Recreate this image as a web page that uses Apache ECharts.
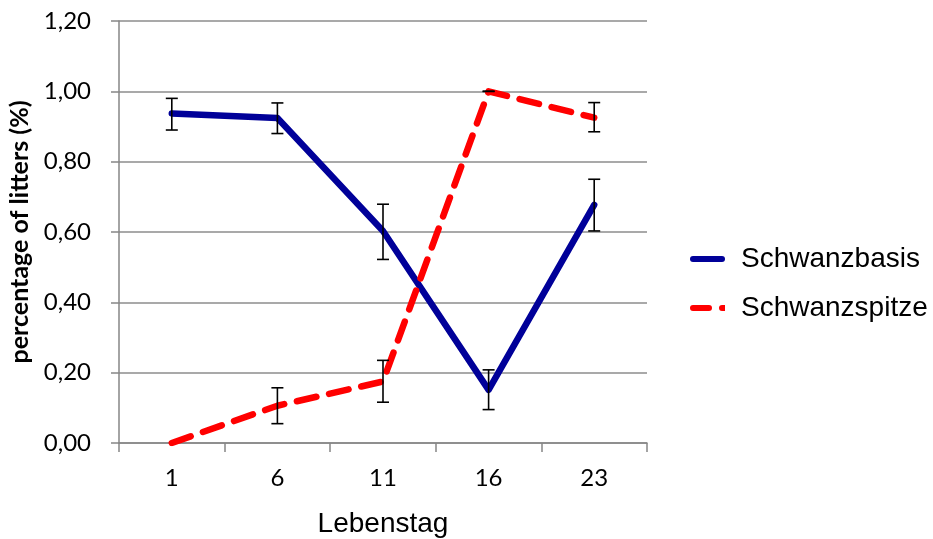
<!DOCTYPE html>
<html><head><meta charset="utf-8">
<script src="https://cdn.jsdelivr.net/npm/echarts@6/dist/echarts.min.js"></script>
<style>html,body{margin:0;padding:0;background:#fff}#c{width:933px;height:539px}</style>
</head><body><div id="c"></div>
<script>
var categories = ['1', '6', '11', '16', '23'];
var basisValues = [0.937, 0.924, 0.603, 0.151, 0.677];
var basisLow = [0.890, 0.880, 0.522, 0.095, 0.603];
var basisHigh = [0.980, 0.967, 0.679, 0.208, 0.750];
var spitzeValues = [0.0, 0.106, 0.175, 1.0, 0.925];
var spitzeLow = [0.0, 0.055, 0.116, 1.0, 0.885];
var spitzeHigh = [0.0, 0.157, 0.235, 1.0, 0.968];
var yTicks = [0, 0.2, 0.4, 0.6, 0.8, 1.0, 1.2];

function errData(low, high) {
  return categories.map(function (c, i) { return [i, low[i], high[i]]; });
}
var showErr = [false, true, true, true, true];
function errRender(params, api) {
  var i = api.value(0);
  var lo = api.coord([i, api.value(1)]);
  var hi = api.coord([i, api.value(2)]);
  var w = 6;
  var st = { stroke: '#000', lineWidth: 1.6 };
  return {
    type: 'group',
    children: [
      { type: 'line', shape: { x1: hi[0], y1: hi[1], x2: lo[0], y2: lo[1] }, style: st },
      { type: 'line', shape: { x1: hi[0] - w, y1: hi[1], x2: hi[0] + w, y2: hi[1] }, style: st },
      { type: 'line', shape: { x1: lo[0] - w, y1: lo[1], x2: lo[0] + w, y2: lo[1] }, style: st }
    ]
  };
}
var spErr = errData(spitzeLow, spitzeHigh).filter(function (d, i) { return showErr[i]; });

var chart = echarts.init(document.getElementById('c'));
chart.setOption({
  animation: false,
  grid: { left: 119, top: 21, width: 528, height: 422, containLabel: false, outerBoundsMode: 'none' },
  legend: {
    orient: 'vertical', left: 685, top: 240, itemWidth: 35, itemHeight: 6, itemGap: 21,
    textStyle: { fontFamily: 'Liberation Sans', fontSize: 28, color: '#000', padding: [0, 0, 0, 11] },
    data: [
      { name: 'Schwanzbasis', icon: 'path://M3,0H32A3,3 0 0 1 32,6H3A3,3 0 0 1 3,0Z' },
      { name: 'Schwanzspitze', icon: 'path://M3,0H19A3,3 0 0 1 19,6H3A3,3 0 0 1 3,0Z M32,0H35V6H32A3,3 0 0 1 32,0Z' }
    ]
  },
  xAxis: {
    type: 'category', data: categories, boundaryGap: true,
    name: 'Lebenstag', nameLocation: 'middle', nameGap: 67,
    nameTextStyle: { fontFamily: 'Liberation Sans', fontSize: 28, color: '#000' },
    axisLine: { lineStyle: { color: '#868686', width: 1.5 } },
    axisTick: { show: true, length: 9, lineStyle: { color: '#868686', width: 1.5 } },
    axisLabel: { fontFamily: 'Lato', fontSize: 24, color: '#000', margin: 23 }
  },
  yAxis: {
    type: 'value', min: 0, max: 1.2, interval: 0.2,
    name: 'percentage of litters (%)', nameLocation: 'middle', nameGap: 85,
    nameTextStyle: { fontFamily: 'Lato', fontWeight: 'bold', fontSize: 25, color: '#000' },
    axisLine: { show: true, lineStyle: { color: '#868686', width: 1.5 } },
    axisTick: { show: true, length: 8, lineStyle: { color: '#868686', width: 1.5 } },
    splitLine: { lineStyle: { color: '#8c8c8c', width: 1.5 } },
    axisLabel: { fontFamily: 'Lato', fontSize: 24, color: '#000', margin: 28,
      formatter: function (v) { return v.toFixed(2).replace('.', ','); } }
  },
  series: [
    {
      name: 'Schwanzbasis', type: 'line', data: basisValues, symbol: 'none',
      itemStyle: { color: '#000099' },
      lineStyle: { color: '#000099', width: 6.5, cap: 'round', join: 'round' }, z: 3
    },
    {
      name: 'Schwanzspitze', type: 'line', data: spitzeValues, symbol: 'none',
      itemStyle: { color: '#ff0000' },
      lineStyle: { color: '#ff0000', width: 6.5, type: [20, 13], cap: 'round', join: 'round' }, z: 3
    },
    { type: 'custom', renderItem: errRender, data: errData(basisLow, basisHigh), z: 5, silent: true },
    { type: 'custom', renderItem: errRender, data: spErr, z: 5, silent: true }
  ]
});
</script></body></html>
